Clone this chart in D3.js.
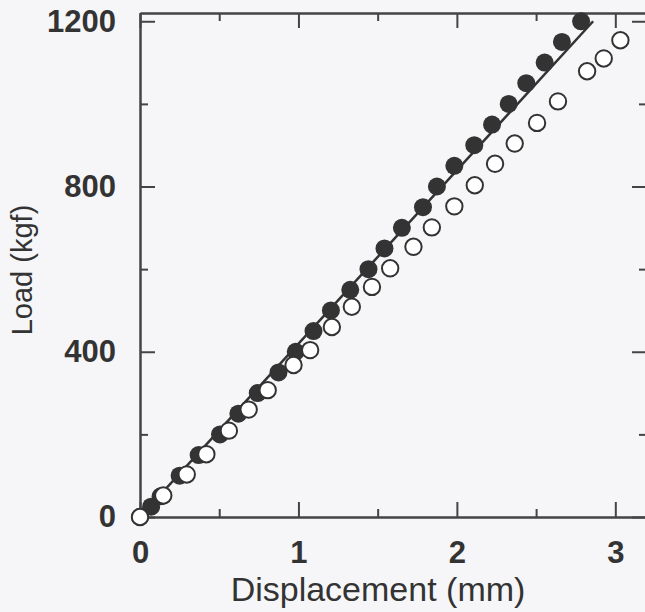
<!DOCTYPE html>
<html>
<head>
<meta charset="utf-8">
<script src="https://cdn.jsdelivr.net/npm/d3@7"></script>
<style>
  html, body { margin: 0; padding: 0; background: #f6f6f8; }
  svg { display: block; }
  .tick text { font-family: "Liberation Sans", Arial, sans-serif; font-weight: bold; fill: #333; }
</style>
</head>
<body>
<div id="chart"></div>
<script>
// load steps (kgf) and measured displacement (mm) for the two specimens
var filledLoad = [0, 25, 50, 100, 150, 200, 250, 300, 350, 400, 450, 500, 550, 600, 650, 700, 750, 800, 850, 900, 950, 1000, 1050, 1100, 1150, 1200];
var filledDisp = [0, 0.07, 0.13, 0.25, 0.37, 0.505, 0.621, 0.743, 0.874, 0.983, 1.095, 1.205, 1.327, 1.442, 1.543, 1.653, 1.786, 1.874, 1.984, 2.11, 2.222, 2.327, 2.438, 2.554, 2.663, 2.784];
var openLoad = [0, 52, 103, 152, 209, 260, 307, 368, 404, 460, 509, 557, 602, 654, 701, 752, 803, 855, 904, 954, 1006, 1079, 1110, 1154];
var openDisp = [0, 0.147, 0.295, 0.419, 0.561, 0.686, 0.806, 0.969, 1.074, 1.211, 1.337, 1.464, 1.579, 1.726, 1.842, 1.984, 2.113, 2.241, 2.365, 2.506, 2.638, 2.822, 2.927, 3.032];
// fitted stiffness line end points
var fitDisp = [0, 2.86];
var fitLoad = [0, 1200];

var xMajor = [0, 1, 2, 3], xMinor = [0.5, 1.5, 2.5];
var yMajor = [0, 400, 800, 1200], yMinor = [200, 600, 1000];

var W = 645, H = 612;
var m = { left: 140, top: 13 };
var pw = 507, ph = 504;

var svg = d3.select("#chart").append("svg").attr("width", W).attr("height", H);
var g = svg.append("g").attr("transform", "translate(" + m.left + "," + m.top + ")");

var x = d3.scaleLinear().domain([0, 3.2]).range([0, pw]);
var y = d3.scaleLinear().domain([0, 1220]).range([ph, 0]);

function styleAxis(sel) {
    sel.select(".domain").attr("stroke", "#444").attr("stroke-width", 2);
    sel.selectAll(".tick line").attr("stroke", "#444").attr("stroke-width", 2);
}

// frame with inward ticks on all four sides
g.append("g").attr("transform", "translate(0," + ph + ")")
    .call(d3.axisBottom(x).tickValues(xMajor).tickSize(-15).tickPadding(24).tickFormat(d3.format("d")).tickSizeOuter(0))
    .call(styleAxis).selectAll("text").attr("font-size", 31);
g.append("g").attr("transform", "translate(0," + ph + ")")
    .call(d3.axisBottom(x).tickValues(xMinor).tickSize(-8).tickFormat("").tickSizeOuter(0)).call(styleAxis);
g.append("g")
    .call(d3.axisTop(x).tickValues(xMajor).tickSize(-15).tickFormat("").tickSizeOuter(0)).call(styleAxis);
g.append("g")
    .call(d3.axisTop(x).tickValues(xMinor).tickSize(-8).tickFormat("").tickSizeOuter(0)).call(styleAxis);

g.append("g")
    .call(d3.axisLeft(y).tickValues(yMajor).tickSize(-15).tickPadding(24).tickFormat(d3.format("d")).tickSizeOuter(0))
    .call(styleAxis).selectAll("text").attr("font-size", 31);
g.append("g")
    .call(d3.axisLeft(y).tickValues(yMinor).tickSize(-8).tickFormat("").tickSizeOuter(0)).call(styleAxis);
g.append("g").attr("transform", "translate(" + pw + ",0)")
    .call(d3.axisRight(y).tickValues(yMajor).tickSize(-15).tickFormat("").tickSizeOuter(0)).call(styleAxis);
g.append("g").attr("transform", "translate(" + pw + ",0)")
    .call(d3.axisRight(y).tickValues(yMinor).tickSize(-8).tickFormat("").tickSizeOuter(0)).call(styleAxis);

// fitted line
var line = d3.line().x(function (d) { return x(d[0]); }).y(function (d) { return y(d[1]); });
g.append("path")
    .datum(d3.zip(fitDisp, fitLoad))
    .attr("d", line)
    .attr("fill", "none")
    .attr("stroke", "#333")
    .attr("stroke-width", 2.5);

// filled markers
g.selectAll("circle.filled")
    .data(d3.zip(filledDisp, filledLoad))
    .enter().append("circle")
    .attr("class", "filled")
    .attr("cx", function (d) { return x(d[0]); })
    .attr("cy", function (d) { return y(d[1]); })
    .attr("r", 9)
    .attr("fill", "#333");

// open markers
g.selectAll("circle.open")
    .data(d3.zip(openDisp, openLoad))
    .enter().append("circle")
    .attr("class", "open")
    .attr("cx", function (d) { return x(d[0]); })
    .attr("cy", function (d) { return y(d[1]); })
    .attr("r", 8.2)
    .attr("fill", "#fff")
    .attr("stroke", "#333")
    .attr("stroke-width", 2);

// axis titles
svg.append("text")
    .attr("x", 378).attr("y", 601)
    .attr("text-anchor", "middle")
    .attr("font-family", "Liberation Sans, Arial, sans-serif")
    .attr("font-size", 34)
    .attr("fill", "#333")
    .text("Displacement (mm)");

svg.append("text")
    .attr("transform", "translate(32,270) rotate(-90)")
    .attr("text-anchor", "middle")
    .attr("font-family", "Liberation Sans, Arial, sans-serif")
    .attr("font-size", 29)
    .attr("fill", "#333")
    .text("Load (kgf)");
</script>
</body>
</html>
